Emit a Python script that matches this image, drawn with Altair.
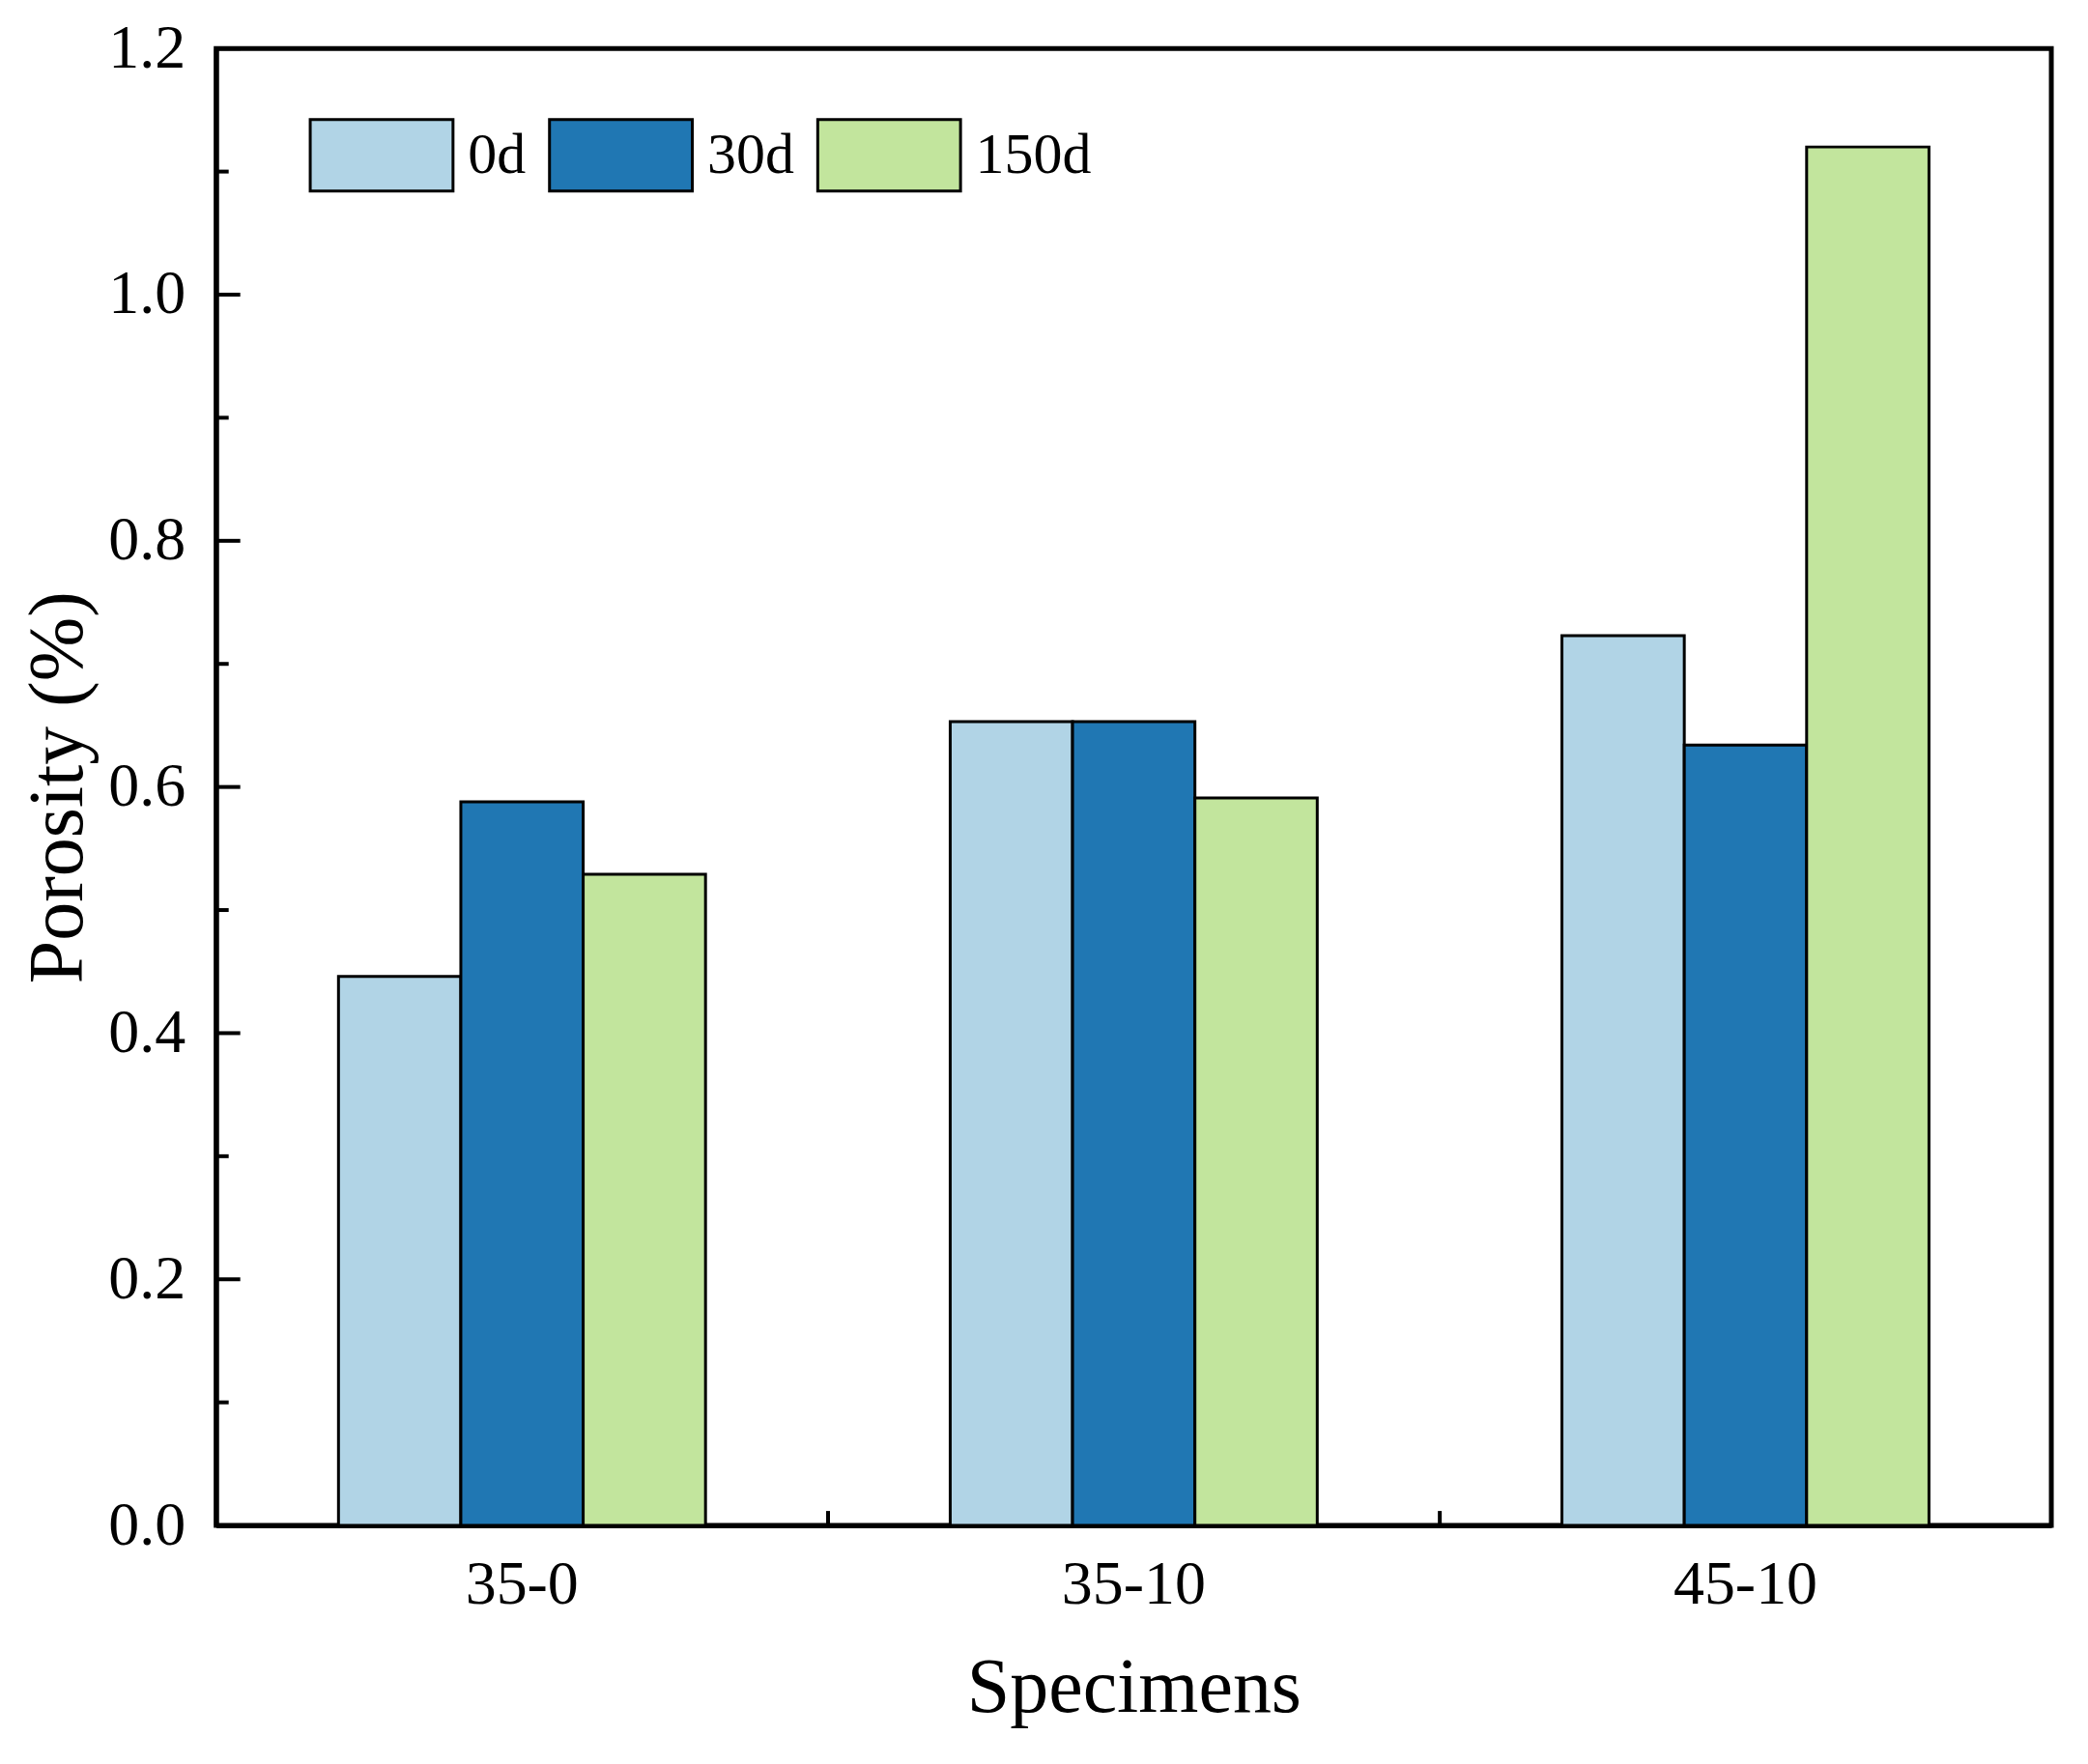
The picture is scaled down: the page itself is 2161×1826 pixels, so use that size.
import pandas as pd
import altair as alt

# Values
specimens = ['35-0', '35-10', '45-10']
ages = ['0d', '30d', '150d']
porosity_0d = [0.446, 0.653, 0.723]
porosity_30d = [0.588, 0.653, 0.634]
porosity_150d = [0.529, 0.591, 1.120]
colors = ['#b1d4e6', '#2077b3', '#c2e59d']

# Axis ticks
ytick_major = [0.0, 0.2, 0.4, 0.6, 0.8, 1.0, 1.2]
ytick_minor = [0.1, 0.3, 0.5, 0.7, 0.9, 1.1]

FONT = 'Liberation Serif'

rows = []
for age, vals in zip(ages, [porosity_0d, porosity_30d, porosity_150d]):
    for spec, v in zip(specimens, vals):
        rows.append({'specimen': spec, 'age': age, 'porosity': v})
df = pd.DataFrame(rows)

bars = alt.Chart(df).mark_bar(stroke='black', strokeWidth=3).encode(
    x=alt.X('specimen:N', sort=specimens,
            scale=alt.Scale(domain=specimens, paddingInner=0.4, paddingOuter=0.2),
            axis=alt.Axis(title='Specimens', labelAngle=0, ticks=False,
                          labelPadding=30, titlePadding=36)),
    xOffset=alt.XOffset('age:N', sort=ages,
                        scale=alt.Scale(domain=ages, paddingInner=0, paddingOuter=0)),
    y=alt.Y('porosity:Q', scale=alt.Scale(domain=[0, 1.2], nice=False, zero=True),
            axis=alt.Axis(title='Porosity (%)', values=ytick_major, format='.1f',
                          ticks=False, labelPadding=32, titlePadding=10)),
    color=alt.Color('age:N', sort=ages,
                    scale=alt.Scale(domain=ages, range=colors),
                    legend=alt.Legend(title=None, orient='none', legendX=96, legendY=35,
                                      direction='horizontal',
                                      symbolType='M-1,-0.5H1V0.5H-1Z', symbolSize=21904,
                                      symbolStrokeColor='black', symbolStrokeWidth=3,
                                      symbolOpacity=1, labelFont=FONT, labelFontSize=60,
                                      labelColor='black', labelOffset=14,
                                      columnPadding=18, padding=0))
)

# inward ticks on the left axis
major = alt.Chart(pd.DataFrame({'porosity': ytick_major})).mark_rule(
    color='black', strokeWidth=4).encode(
    y='porosity:Q', x=alt.value(0), x2=alt.value(25))
minor = alt.Chart(pd.DataFrame({'porosity': ytick_minor})).mark_rule(
    color='black', strokeWidth=4).encode(
    y='porosity:Q', x=alt.value(0), x2=alt.value(13))

# inward ticks on the bottom axis, between groups (band end + half the inner gap)
xticks = alt.Chart(pd.DataFrame({'specimen': specimens[:2]})).mark_rule(
    color='black', strokeWidth=4, xOffset=127).encode(
    x=alt.X('specimen:N', bandPosition=1),
    y=alt.value(1531), y2=alt.value(1516))

chart = alt.layer(bars, major, minor, xticks).properties(
    width=1902,
    height=1531,
    autosize=alt.AutoSizeParams(type='none'),
    padding={'left': 216, 'top': 41, 'right': 30, 'bottom': 230}
).configure_view(
    stroke='black', strokeWidth=5
).configure_axis(
    domainColor='black', domainWidth=5, grid=False,
    labelFont=FONT, labelFontSize=64, labelColor='black',
    titleFont=FONT, titleFontSize=80, titleColor='black', titleFontWeight='normal'
)

chart.save("out.html", embed_options={"renderer": "svg", "actions": False})
